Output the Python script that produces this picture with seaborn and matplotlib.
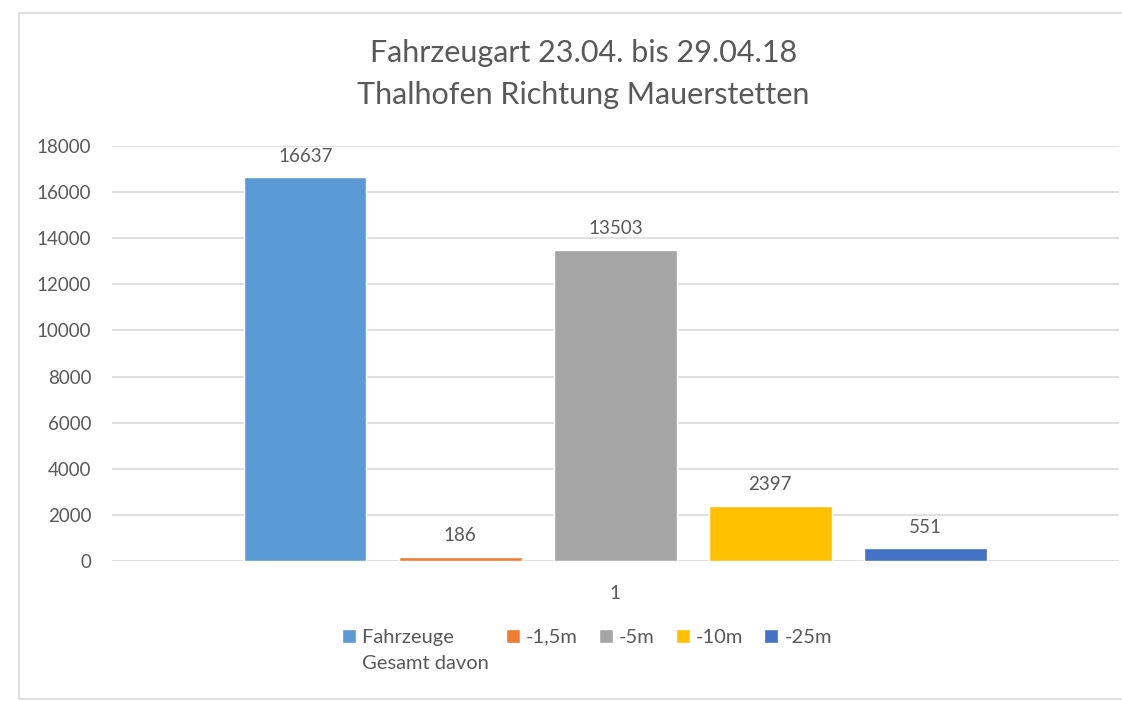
import seaborn as sns
import numpy as np
import pandas as pd
import matplotlib.pyplot as plt
from matplotlib.patches import Rectangle

# data
category = ['1']
series = ['Fahrzeuge Gesamt davon', '-1,5m', '-5m', '-10m', '-25m']
values = [16637, 186, 13503, 2397, 551]
colors = ['#5B9BD5', '#ED7D31', '#A5A5A5', '#FFC000', '#4472C4']
yticks = [0, 2000, 4000, 6000, 8000, 10000, 12000, 14000, 16000, 18000]

df = pd.DataFrame({'cat': category * len(series), 'series': series, 'value': values})

sns.set_theme(style='white')
plt.rcParams['font.family'] = ['Lato', 'DejaVu Sans']
txt = '#595959'

fig = plt.figure(figsize=(11.22, 7.01), dpi=100)
ax = fig.add_axes([0.0998, 0.1997, 0.8972, 0.592])

sns.barplot(data=df, x='cat', y='value', hue='series', palette=colors,
            width=0.77, gap=0.21, ax=ax, saturation=1)

handles, labels = ax.get_legend_handles_labels()
ax.get_legend().remove()

for c in ax.containers:
    ax.bar_label(c, fmt='%d', padding=9, fontsize=13.5, color=txt)

ax.set_xlim(-0.5, 0.5)
ax.set_ylim(0, 18000)
ax.set_yticks(yticks)
ax.yaxis.grid(True, color='#D9D9D9', linewidth=1.2)
ax.set_axisbelow(True)
for s in ax.spines.values():
    s.set_visible(False)
ax.tick_params(axis='y', length=0, pad=15, labelsize=13.5, labelcolor=txt)
ax.tick_params(axis='x', length=0, pad=17, labelsize=13.5, labelcolor=txt)
ax.set_xlabel('')
ax.set_ylabel('')

fig.text(0.52, 0.895, 'Fahrzeugart 23.04. bis 29.04.18\nThalhofen Richtung Mauerstetten',
         ha='center', va='center', fontsize=22, color=txt, linespacing=1.6)

# legend: first label wraps onto a second line
leg_labels = ['Fahrzeuge' + ' ' * 6] + labels[1:]
leg = fig.legend(handles, leg_labels, loc='center', bbox_to_anchor=(0.523, 0.091),
                 ncol=5, frameon=False, fontsize=14.5, handlelength=0.7,
                 handleheight=0.7, handletextpad=0.3, columnspacing=1.05,
                 labelcolor=txt)

fig.patches.append(Rectangle((19 / 1122, 2 / 701), 1.2, 686 / 701, transform=fig.transFigure,
                             fill=False, edgecolor='#D9D9D9', linewidth=1.2))

fig.canvas.draw()
bb = leg.get_texts()[0].get_window_extent()
fig.text(bb.x0 / fig.bbox.width, (bb.y0 - 9) / fig.bbox.height, 'Gesamt davon',
         ha='left', va='top', fontsize=14.5, color=txt)

fig.savefig('out.png', dpi=100)
